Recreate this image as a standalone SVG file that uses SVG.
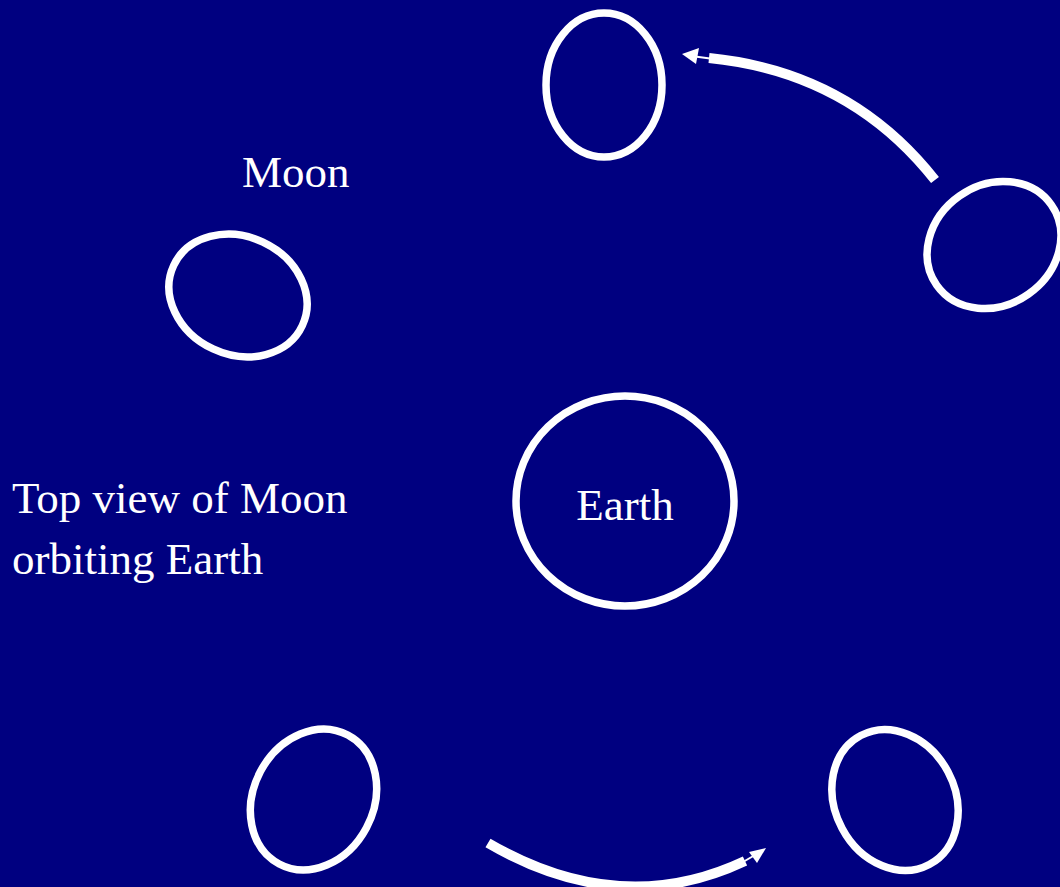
<svg xmlns="http://www.w3.org/2000/svg" width="1060" height="887" viewBox="0 0 1060 887">
<style>
.body{fill:none;stroke:#fff;stroke-width:7.5}
.arc{fill:none;stroke:#fff;stroke-width:10}
.thin{fill:none;stroke:#fff;stroke-width:2}
.t{font-family:"Liberation Serif",serif;font-size:45px;fill:#fff}
</style>
<rect width="1060" height="887" fill="#000080"/>
<g id="moon-top"><ellipse class="body" cx="604" cy="85" rx="58" ry="72"/></g>
<g id="moon-right"><ellipse class="body" cx="994" cy="245" rx="70" ry="60" transform="rotate(-35 994 245)"/></g>
<g id="moon-left"><ellipse class="body" cx="238" cy="295.5" rx="71" ry="59" transform="rotate(25 238 295.5)"/></g>
<g id="moon-bottom-left"><ellipse class="body" cx="313.5" cy="799.5" rx="60" ry="73" transform="rotate(28 313.5 799.5)"/></g>
<g id="moon-bottom-right"><ellipse class="body" cx="895" cy="800" rx="60" ry="73" transform="rotate(-28 895 800)"/></g>
<g id="earth"><ellipse class="body" cx="625" cy="501" rx="109" ry="105"/><text class="t" x="625" y="520" text-anchor="middle">Earth</text></g>
<g id="labels">
<text class="t" x="242" y="187">Moon</text>
<text class="t" x="12" y="513">Top view of Moon</text>
<text class="t" x="12" y="574">orbiting Earth</text>
</g>
<g id="connectors">
<path class="arc" d="M935,180 Q850,72 709,58"/>
<line class="thin" x1="710" y1="58.5" x2="695" y2="56.5"/>
<polygon fill="#fff" points="682,54 699,48 696,64"/>
<path class="arc" d="M488,843 Q620,920 745,861"/>
<line class="thin" x1="743" y1="862" x2="755" y2="855"/>
<polygon fill="#fff" points="766,848 749,852 757,863"/>
</g>
</svg>
